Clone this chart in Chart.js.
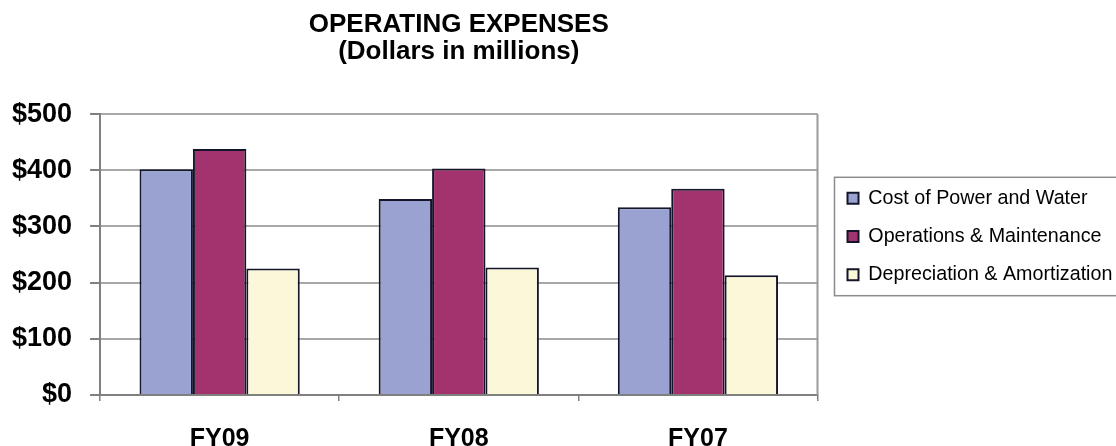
<!DOCTYPE html>
<html>
<head>
<meta charset="utf-8">
<script src="https://cdn.jsdelivr.net/npm/chart.js@4/dist/chart.umd.min.js"></script>
<style>
  html, body { margin: 0; padding: 0; background: #fff; }
  #wrap { width: 1116px; height: 446px; position: relative; }
</style>
</head>
<body>
<div id="wrap"><canvas id="opex"></canvas></div>
<script>
  // Data
  const categories = ['FY09', 'FY08', 'FY07'];
  const costOfPowerAndWater = [402, 349, 334];
  const operationsMaintenance = [438, 403, 367];
  const depreciationAmortization = [225, 227, 213];
  const yTicks = [0, 100, 200, 300, 400, 500];
  const titleLines = ['OPERATING EXPENSES', '(Dollars in millions)'];

  const FONT = 'Arial, "Liberation Sans", sans-serif';
  const LEGEND_WIDTH = 297;

  // Let the legend be wider than the layout's default cap
  const legendWidthPlugin = {
    id: 'legendWidth',
    afterInit(chart) {
      const lg = chart.legend;
      if (!lg) return;
      const fit = lg.fit;
      lg.fit = function () {
        fit.call(this);
        this.width = LEGEND_WIDTH;
      };
    }
  };

  // Frame on the plot area's right side and box around the legend
  const framePlugin = {
    id: 'frame',
    afterDraw(chart) {
      const ctx = chart.ctx;
      const a = chart.chartArea;
      ctx.save();
      ctx.strokeStyle = '#9a9a9a';
      ctx.lineWidth = 2;
      ctx.beginPath();
      ctx.moveTo(a.right, a.top);
      ctx.lineTo(a.right, a.bottom);
      ctx.stroke();

      const lg = chart.legend;
      if (lg && lg.legendHitBoxes && lg.legendHitBoxes.length) {
        const boxes = lg.legendHitBoxes;
        const first = boxes[0], last = boxes[boxes.length - 1];
        const top = first.top + first.height / 2 - 21;
        const bottom = last.top + last.height / 2 + 21;
        const left = first.left - 13;
        ctx.strokeStyle = '#8c8c8c';
        ctx.lineWidth = 1.5;
        ctx.strokeRect(left, top, chart.width - left + 4, bottom - top);
      }
      ctx.restore();
    }
  };

  new Chart(document.getElementById('opex'), {
    type: 'bar',
    data: {
      labels: categories,
      datasets: [
        {
          label: 'Cost of Power and Water',
          data: costOfPowerAndWater,
          backgroundColor: '#99a2d0',
          borderColor: '#14142a',
          borderWidth: 2
        },
        {
          label: 'Operations & Maintenance',
          data: operationsMaintenance,
          backgroundColor: '#a3336f',
          borderColor: '#14142a',
          borderWidth: 2
        },
        {
          label: 'Depreciation & Amortization',
          data: depreciationAmortization,
          backgroundColor: '#fbf8da',
          borderColor: '#14142a',
          borderWidth: 2
        }
      ]
    },
    options: {
      responsive: true,
      maintainAspectRatio: false,
      animation: false,
      datasets: { bar: { categoryPercentage: 0.67, barPercentage: 1 } },
      layout: { padding: { left: -6, right: -10, top: -5, bottom: -32 } },
      plugins: {
        title: {
          display: true,
          text: titleLines,
          fullSize: false,
          color: '#000',
          font: { family: FONT, size: 26, weight: 'bold', lineHeight: 1.04 },
          padding: { top: 16, bottom: 49 }
        },
        legend: {
          position: 'right',
          align: 'center',
          labels: {
            color: '#000',
            font: { family: FONT, size: 19.7 },
            boxWidth: 11,
            boxHeight: 11,
            padding: 18.5
          }
        },
        tooltip: { enabled: false }
      },
      scales: {
        x: {
          grid: {
            offset: true,
            drawOnChartArea: false,
            drawTicks: true,
            tickLength: 6,
            color: '#808080',
            lineWidth: 1.5
          },
          border: { color: '#808080', width: 2 },
          ticks: {
            color: '#000',
            padding: 26,
            font: { family: FONT, size: 25, weight: 'bold', lineHeight: 1 }
          }
        },
        y: {
          min: 0,
          max: 500,
          afterBuildTicks(axis) {
            axis.ticks = yTicks.map(v => ({ value: v }));
          },
          grid: {
            color: '#a8a8a8',
            lineWidth: 2,
            tickLength: 10,
            tickColor: '#808080'
          },
          border: { color: '#808080', width: 2 },
          ticks: {
            color: '#000',
            padding: 18,
            font: { family: FONT, size: 27, weight: 'bold' },
            callback: v => '$' + v
          }
        },
        // empty spacer between the plot area and the legend
        gap: {
          type: 'linear',
          position: 'right',
          grid: { display: false },
          border: { display: false },
          ticks: { display: false },
          afterFit(axis) { axis.width = 11.5; }
        }
      }
    },
    plugins: [legendWidthPlugin, framePlugin]
  });
</script>
</body>
</html>
